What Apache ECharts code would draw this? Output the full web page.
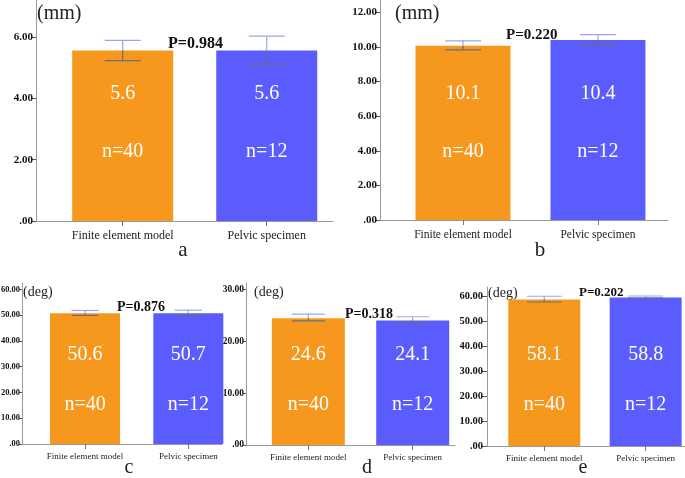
<!DOCTYPE html>
<html>

<head>
    <meta charset="utf-8" />
    <title>ECharts</title>
    <script src="https://cdn.jsdelivr.net/npm/echarts@6/dist/echarts.min.js"></script>
</head>

<body style="margin: 0">
    <div id="main" style="width: 685px; height: 478px"></div>
    <script type="text/javascript">
        var categories = ["Finite element model", "Pelvic specimen"];
        var sampleSizes = ["n=40", "n=12"];

        // bar heights
        var meanA = [5.56, 5.56];
        var meanB = [10.07, 10.4];
        var meanC = [50.7, 50.7];
        var meanD = [24.4, 24.0];
        var meanE = [58.6, 59.4];

        // printed mean labels
        var textA = ["5.6", "5.6"];
        var textB = ["10.1", "10.4"];
        var textC = ["50.6", "50.7"];
        var textD = ["24.6", "24.1"];
        var textE = ["58.1", "58.8"];

        // error bars (low / high)
        var lowA = [5.23, 5.12], highA = [5.89, 6.03];
        var lowB = [9.83, 10.12], highB = [10.35, 10.71];
        var lowC = [49.9, 50.2], highC = [51.8, 51.9];
        var lowD = [23.9, 23.6], highD = [25.2, 24.7];
        var lowE = [57.6, 59.2], highE = [59.9, 60.0];

        var yTicksA = [0, 2, 4, 6];
        var yTicksB = [0, 2, 4, 6, 8, 10, 12];
        var yTicksC = [0, 10, 20, 30, 40, 50, 60];
        var yTicksD = [0, 10, 20, 30];
        var yTicksE = [0, 10, 20, 30, 40, 50, 60];

        var pValues = ["P=0.984", "P=0.220", "P=0.876", "P=0.318", "P=0.202"];
        var units = ["(mm)", "(mm)", "(deg)", "(deg)", "(deg)"];
        var letters = ["a", "b", "c", "d", "e"];

        var panels = [
            { mean: meanA, text: textA, low: lowA, high: highA, ticks: yTicksA },
            { mean: meanB, text: textB, low: lowB, high: highB, ticks: yTicksB },
            { mean: meanC, text: textC, low: lowC, high: highC, ticks: yTicksC },
            { mean: meanD, text: textD, low: lowD, high: highD, ticks: yTicksD },
            { mean: meanE, text: textE, low: lowE, high: highE, ticks: yTicksE },
        ];

        // pixel layout of each panel
        var layout = [
            { left: 36, top: 0, width: 297, height: 221, xMin: -0.602, xMax: 1.46, yMax: 7.21, barW: 101, capW: 36, yFont: 11, yMargin: 3, yTick: 4, catFont: 12, catMargin: 9, nLine: 91, nDist: 24, unit: [37, 14, 20], p: [168, 44, 16], letter: [183, 250, 21] },
            { left: 380, top: 0, width: 288, height: 220, xMin: -0.615, xMax: 1.519, yMax: 12.71, barW: 95, capW: 36, yFont: 11, yMargin: 3, yTick: 4, catFont: 11.5, catMargin: 9, nLine: 91, nDist: 23, unit: [395, 14, 20], p: [506, 35, 15], letter: [540, 250, 21] },
            { left: 22, top: 283, width: 200, height: 161, xMin: -0.61, xMax: 1.326, yMax: 62.45, barW: 70, capW: 27, yFont: 8.5, yMargin: 2, yTick: 3, catFont: 9, catMargin: 8, nLine: 76, nDist: 1, unit: [23, 292, 14], p: [117, 307, 14], letter: [129, 468, 20] },
            { left: 246, top: 283, width: 209, height: 162, xMin: -0.597, xMax: 1.405, yMax: 31.2, barW: 73, capW: 33, yFont: 9.5, yMargin: 2, yTick: 3, catFont: 9, catMargin: 8, nLine: 76, nDist: 2, unit: [254, 292, 14], p: [345, 314, 14], letter: [367, 468, 20] },
            { left: 487, top: 287, width: 198, height: 159, xMin: -0.565, xMax: 1.388, yMax: 63.6, barW: 72, capW: 35, yFont: 10.5, yMargin: 4, yTick: 5, catFont: 9, catMargin: 8, nLine: 76, nDist: 3, unit: [488, 293, 14], p: [579, 293, 13], letter: [583, 468, 20] },
        ];

        var barColors = ["#f7981e", "#5b5cfd"];
        var serif = '"Liberation Serif", "Times New Roman", serif';
        var axisGray = "#9a9a9a";

        var grids = [], xAxes = [], yAxes = [], series = [], graphics = [];

        panels.forEach(function (pd, i) {
            var lay = layout[i];
            grids.push({
                left: lay.left, top: lay.top, width: lay.width, height: lay.height,
                containLabel: false, outerBoundsMode: "none",
            });
            xAxes.push({
                gridIndex: i, type: "value", min: lay.xMin, max: lay.xMax,
                splitLine: { show: false },
                axisLine: { show: true, onZero: false, lineStyle: { color: axisGray, width: 1 } },
                axisTick: { show: true, customValues: [0, 1], length: 5, lineStyle: { color: "#777" } },
                axisLabel: {
                    customValues: [0, 1], margin: lay.catMargin,
                    fontFamily: serif, fontSize: lay.catFont, color: "#222",
                    formatter: function (v) { return categories[Math.round(v)]; },
                },
            });
            yAxes.push({
                gridIndex: i, type: "value", min: 0, max: lay.yMax,
                splitLine: { show: false },
                axisLine: { show: true, onZero: false, lineStyle: { color: axisGray, width: 1 } },
                axisTick: { show: true, customValues: pd.ticks, length: lay.yTick, lineStyle: { color: "#555" } },
                axisLabel: {
                    customValues: pd.ticks, margin: lay.yMargin,
                    fontFamily: serif, fontSize: lay.yFont, fontWeight: "bold", color: "#111",
                    formatter: function (v) { return v === 0 ? ".00" : v.toFixed(2); },
                },
            });

            series.push({
                type: "bar", xAxisIndex: i, yAxisIndex: i, barWidth: lay.barW,
                data: pd.mean.map(function (m, k) {
                    return { value: [k, m], itemStyle: { color: barColors[k] } };
                }),
                label: {
                    show: true, position: "insideBottom", distance: lay.nDist,
                    formatter: function (p) {
                        return "{v|" + pd.text[p.dataIndex] + "}\n{n|" + sampleSizes[p.dataIndex] + "}";
                    },
                    rich: {
                        v: { fontFamily: serif, fontSize: 20, color: "#fff", lineHeight: 24 },
                        n: { fontFamily: serif, fontSize: 20, color: "#fff", lineHeight: lay.nLine },
                    },
                },
                emphasis: { disabled: true },
            });

            series.push({
                type: "custom", xAxisIndex: i, yAxisIndex: i, z: 5,
                data: pd.mean.map(function (m, k) { return [k, pd.low[k], pd.high[k], m]; }),
                renderItem: function (params, api) {
                    var x = api.value(0);
                    var pHi = api.coord([x, api.value(2)]);
                    var pLo = api.coord([x, api.value(1)]);
                    var pM = api.coord([x, api.value(3)]);
                    var h = lay.capW / 2;
                    var light = { stroke: "#9aa6e4", lineWidth: 1.2 };
                    var dark = { stroke: "#6c6c7c", lineWidth: 1.2 };
                    return {
                        type: "group",
                        children: [
                            { type: "line", shape: { x1: pHi[0], y1: pHi[1], x2: pM[0], y2: pM[1] }, style: light },
                            { type: "line", shape: { x1: pM[0], y1: pM[1], x2: pLo[0], y2: pLo[1] }, style: dark },
                            { type: "line", shape: { x1: pHi[0] - h, y1: pHi[1], x2: pHi[0] + h, y2: pHi[1] }, style: light },
                            { type: "line", shape: { x1: pLo[0] - h, y1: pLo[1], x2: pLo[0] + h, y2: pLo[1] }, style: pLo[1] > pM[1] ? dark : light },
                        ],
                    };
                },
            });

            graphics.push({
                type: "text", x: lay.unit[0], y: lay.unit[1],
                style: { text: units[i], font: lay.unit[2] + "px " + serif, fill: "#222", align: "left", verticalAlign: "middle" },
            });
            graphics.push({
                type: "text", x: lay.p[0], y: lay.p[1],
                style: { text: pValues[i], font: "bold " + lay.p[2] + "px " + serif, fill: "#111", align: "left", verticalAlign: "middle" },
            });
            graphics.push({
                type: "text", x: lay.letter[0], y: lay.letter[1],
                style: { text: letters[i], font: lay.letter[2] + "px " + serif, fill: "#222", align: "center", verticalAlign: "middle" },
            });
        });

        var myChart = echarts.init(document.getElementById("main"));
        myChart.setOption({
            animation: false,
            backgroundColor: "#fff",
            grid: grids,
            xAxis: xAxes,
            yAxis: yAxes,
            series: series,
            graphic: graphics,
        });
    </script>
</body>

</html>
